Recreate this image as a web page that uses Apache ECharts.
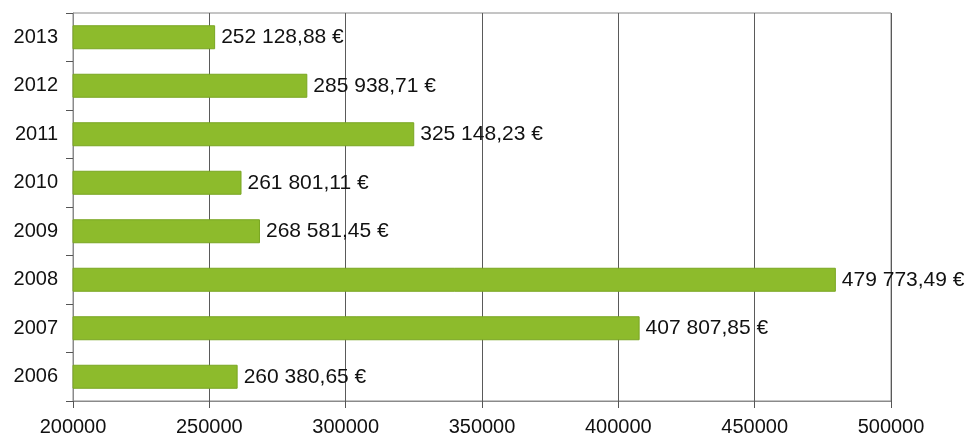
<!DOCTYPE html>
<html>
<head>
<meta charset="utf-8">
<script src="https://cdn.jsdelivr.net/npm/echarts@6/dist/echarts.min.js"></script>
<style>
  html, body { margin: 0; padding: 0; background: #fff; }
  #chart { width: 968px; height: 439px; }
</style>
</head>
<body>
<div id="chart"></div>
<script>
// years, bottom to top as ECharts draws a category y axis
const years = ["2006", "2007", "2008", "2009", "2010", "2011", "2012", "2013"];
const amounts = [260380.65, 407807.85, 479773.49, 268581.45, 261801.11, 325148.23, 285938.71, 252128.88];
const xTicks = [200000, 250000, 300000, 350000, 400000, 450000, 500000];

function euro(v) {
  let parts = v.toFixed(2).split(".");
  let int = parts[0].replace(/\B(?=(\d{3})+(?!\d))/g, " ");
  return int + "," + parts[1] + " €";
}

let myChart = echarts.init(document.getElementById("chart"));
let options = {
  animation: false,
  textStyle: { fontFamily: "Liberation Sans, Arial, sans-serif" },
  grid: {
    left: 73,
    right: 77,
    top: 13,
    bottom: 38,
    show: true,
    borderColor: "#8a8a8a",
    borderWidth: 1,
  },
  xAxis: {
    type: "value",
    min: xTicks[0],
    max: xTicks[xTicks.length - 1],
    interval: 50000,
    axisLine: { show: true, lineStyle: { color: "#8a8a8a" } },
    axisTick: { show: true, length: 7, lineStyle: { color: "#555" } },
    axisLabel: {
      color: "#111",
      fontSize: 20,
      margin: 16,
      formatter: (v) => String(v), // no thousands separator
    },
    splitLine: { show: true, lineStyle: { color: "#5a5a5a", width: 1 } },
  },
  yAxis: {
    type: "category",
    data: years,
    axisLine: { show: true, lineStyle: { color: "#8a8a8a" } },
    axisTick: { show: true, length: 7, lineStyle: { color: "#555" } },
    axisLabel: { color: "#111", fontSize: 20, margin: 15 },
    splitLine: { show: false },
  },
  series: [
    {
      type: "bar",
      data: amounts,
      barWidth: 24,
      itemStyle: {
        color: "#8dbb2c",
        borderColor: "#7aa622",
        borderWidth: 1,
      },
      label: {
        show: true,
        position: "right",
        distance: 6,
        color: "#111",
        fontSize: 21,
        formatter: (p) => euro(p.value),
      },
    },
  ],
};
myChart.setOption(options);
</script>
</body>
</html>
